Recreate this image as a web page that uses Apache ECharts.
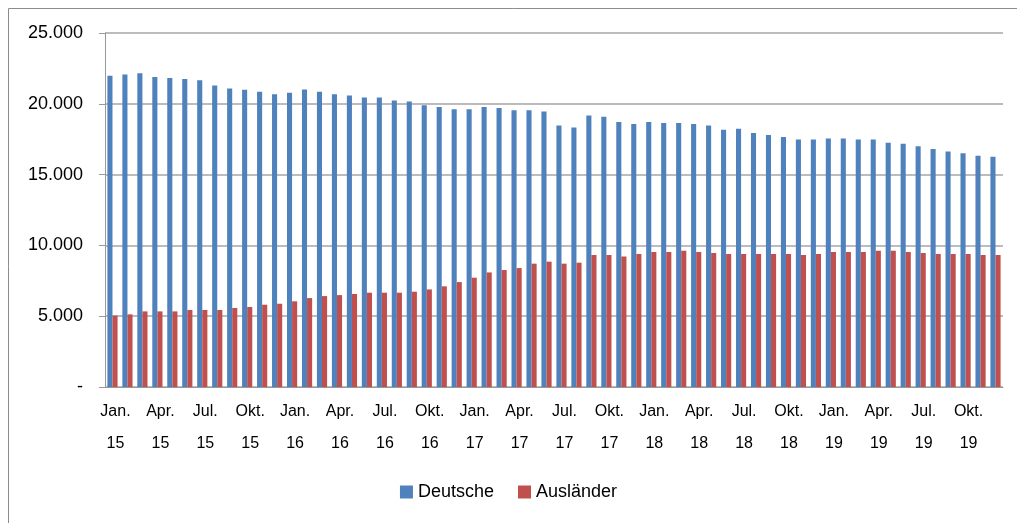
<!DOCTYPE html>
<html>
<head>
<meta charset="utf-8">
<script src="https://cdn.jsdelivr.net/npm/echarts@6/dist/echarts.min.js"></script>
<style>html,body{margin:0;padding:0;background:#fff;}#c{width:1017px;height:523px;}</style>
</head>
<body>
<div id="c"></div>
<script>
const months = ['Jan.','Feb.','Mär.','Apr.','Mai','Jun.','Jul.','Aug.','Sep.','Okt.','Nov.','Dez.'];
const years = ['15','16','17','18','19'];
const categories = [];
years.forEach(y => months.forEach(m => categories.push(m + '\n' + y)));

const deutsche = [
  21980, 22070, 22160, 21900, 21830, 21760, 21670, 21300, 21080, 20990, 20850, 20680,
  20780, 21010, 20850, 20680, 20590, 20450, 20450, 20240, 20170, 19900, 19770, 19620,
  19620, 19770, 19700, 19550, 19550, 19460, 18470, 18330, 19180, 19080, 18710, 18570,
  18710, 18640, 18640, 18570, 18470, 18170, 18240, 17930, 17790, 17650, 17480, 17480,
  17550, 17550, 17480, 17480, 17250, 17180, 17010, 16800, 16640, 16500, 16330, 16260
];
const auslaender = [
  5040, 5130, 5340, 5340, 5340, 5440, 5440, 5440, 5580, 5650, 5810, 5880,
  6050, 6280, 6420, 6490, 6570, 6660, 6660, 6660, 6730, 6890, 7110, 7410,
  7720, 8090, 8260, 8400, 8710, 8850, 8710, 8780, 9320, 9320, 9220, 9390,
  9530, 9530, 9620, 9530, 9470, 9390, 9390, 9390, 9390, 9390, 9320, 9390,
  9530, 9530, 9530, 9620, 9620, 9530, 9460, 9390, 9390, 9390, 9320, 9320
];
const seriesNames = ['Deutsche', 'Ausländer'];
const yTicks = { min: 0, max: 25000, interval: 5000 };

const font = '"Liberation Sans", Arial, sans-serif';
const chart = echarts.init(document.getElementById('c'), null, { renderer: 'canvas' });
chart.setOption({
  animation: false,
  backgroundColor: '#fff',
  color: ['#4F81BD', '#C0504D'],
  graphic: [{
    type: 'rect', shape: { x: 8.5, y: 8.5, width: 1100, height: 600 },
    style: { fill: 'none', stroke: '#8c8c8c', lineWidth: 1 }, silent: true
  }],
  grid: { left: 105, right: 14, top: 33, bottom: 136, containLabel: false },
  legend: {
    data: seriesNames, bottom: 17, left: 'center',
    itemWidth: 13, itemHeight: 13, itemGap: 24, icon: 'rect',
    textStyle: { fontFamily: font, fontSize: 18, color: '#000' }
  },
  xAxis: {
    type: 'category', data: categories, boundaryGap: true,
    axisLine: { lineStyle: { color: '#999', width: 1 } },
    axisTick: { interval: 2, length: 6, lineStyle: { color: '#999' } },
    axisLabel: { interval: 2, fontFamily: font, fontSize: 16, color: '#000', lineHeight: 32, margin: 9, padding: [0, 0, 0, 6] }
  },
  yAxis: {
    type: 'value', min: yTicks.min, max: yTicks.max, interval: yTicks.interval,
    axisLine: { show: true, lineStyle: { color: '#999', width: 1 } },
    axisTick: { show: true, length: 6, lineStyle: { color: '#999' } },
    splitLine: { lineStyle: { color: '#a6a6a6', width: 1.5 } },
    axisLabel: {
      fontFamily: font, fontSize: 18, color: '#000', margin: 22,
      formatter: v => v === 0 ? '-' : String(v).replace(/\B(?=(\d{3})+(?!\d))/g, '.')
    }
  },
  series: [
    { name: seriesNames[0], type: 'bar', data: deutsche, barGap: '0%', barCategoryGap: '32%' },
    { name: seriesNames[1], type: 'bar', data: auslaender, barGap: '0%', barCategoryGap: '32%' }
  ]
});
</script>
</body>
</html>
